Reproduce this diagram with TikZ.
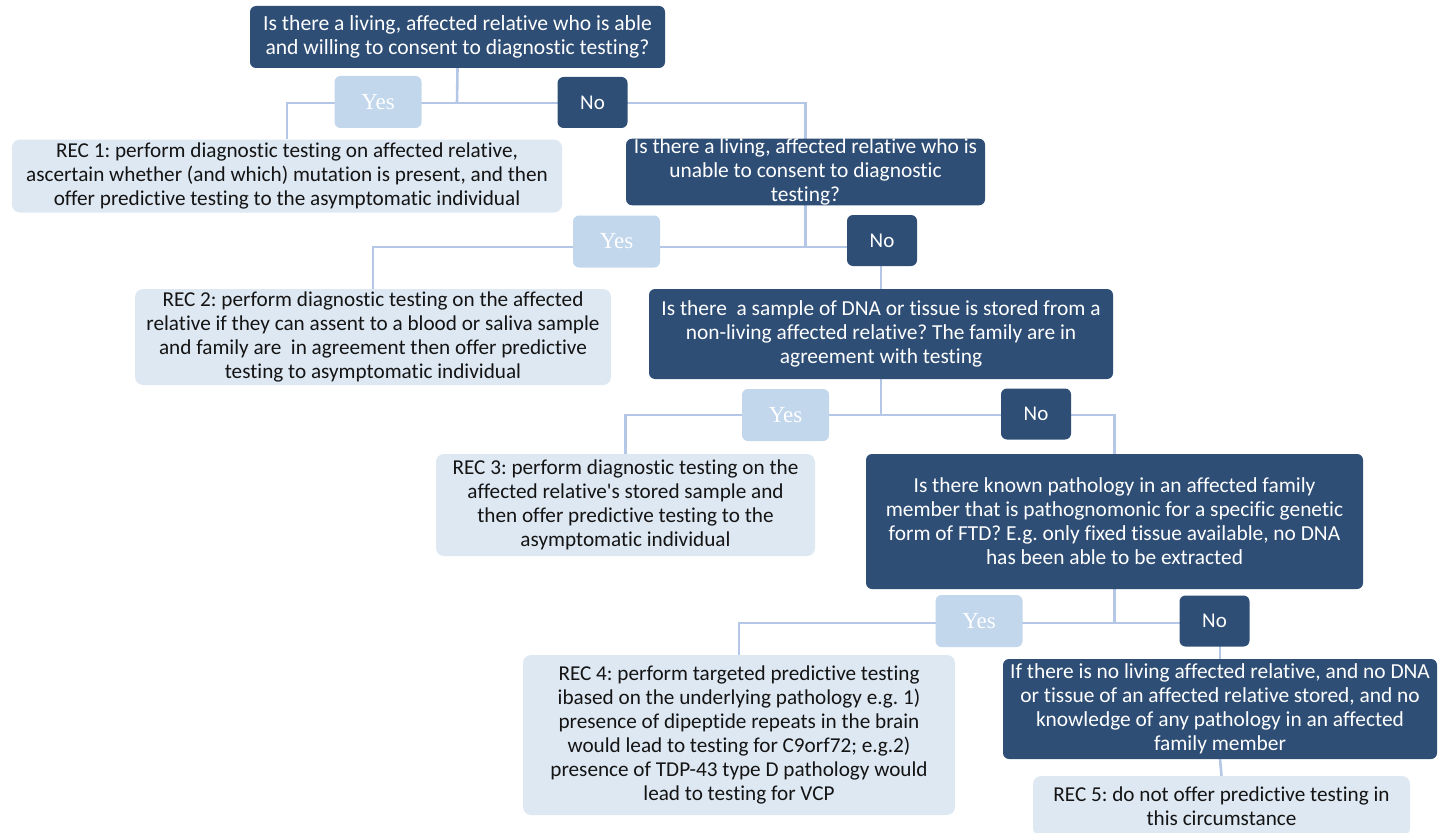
\documentclass[tikz,border=0pt]{standalone}
\usepackage{fontspec}
\setmainfont[Ligatures={NoCommon,TeXOff}]{Carlito}
\newfontfamily\yesfont{Liberation Serif}
\usetikzlibrary{backgrounds}
\frenchspacing
\definecolor{dkblue}{RGB}{46,78,118}
\definecolor{ltbox}{RGB}{222,232,243}
\definecolor{yesbox}{RGB}{194,214,236}
\definecolor{conn}{RGB}{180,199,231}
\definecolor{txt}{RGB}{20,20,20}
\tikzset{
  qbox/.style={fill=dkblue, text=white, rounded corners=6pt, inner sep=0pt, align=center,
    font=\frenchspacing\fontsize{21.4}{24}\selectfont},
  recbox/.style={fill=ltbox, text=txt, rounded corners=8pt, inner sep=0pt, align=center,
    font=\frenchspacing\fontsize{21.2}{24}\selectfont},
  yeslab/.style={fill=yesbox, text=white, rounded corners=6pt, inner sep=0pt,
    minimum width=87pt, minimum height=52pt, font=\yesfont\fontsize{23}{26}\selectfont},
  nolab/.style={fill=dkblue, text=white, rounded corners=6pt, inner sep=0pt,
    minimum width=70pt, minimum height=51pt, font=\fontsize{21}{24}\selectfont},
  connline/.style={draw=conn, line width=2.6pt}
}
\begin{document}
\begin{tikzpicture}[x=1pt,y=-1pt]
\useasboundingbox (0,0) rectangle (1439,832);
\clip (0,0) rectangle (1439,832);
% questions
\node[qbox, minimum width=415pt, minimum height=62pt, font=\frenchspacing\fontsize{21.6}{24}\selectfont] (q1) at (457.5,37)
  {Is there a living, affected relative who is able\\and willing to consent to diagnostic testing?};
\node[qbox, minimum width=359pt, minimum height=66pt] (q2) at (805.5,172)
  {Is there a living, affected relative who is\\unable to consent to diagnostic\\testing?};
\node[qbox, minimum width=464pt, minimum height=90pt] (q3) at (881,334)
  {Is there \ a sample of DNA or tissue is stored from a\\non-living affected relative? The family are in\\agreement with testing};
\node[qbox, minimum width=497pt, minimum height=135pt] (q4) at (1114.5,521.5)
  {Is there known pathology in an affected family\\member that is pathognomonic for a specific genetic\\form of FTD? E.g. only fixed tissue available, no DNA\\has been able to be extracted};
\node[qbox, minimum width=434pt, minimum height=100pt] (q5) at (1220,709)
  {If there is no living affected relative, and no DNA\\or tissue of an affected relative stored, and no\\knowledge of any pathology in an affected\\family member};
% recommendations
\node[recbox, minimum width=550pt, minimum height=73pt] (rec1) at (287,176)
  {REC 1: perform diagnostic testing on affected relative,\\ascertain whether (and which) mutation is present, and then\\offer predictive testing to the asymptomatic individual};
\node[recbox, minimum width=476pt, minimum height=96pt] (rec2) at (373,337)
  {REC 2: perform diagnostic testing on the affected\\relative if they can assent to a blood or saliva sample\\and family are \ in agreement then offer predictive\\testing to asymptomatic individual};
\node[recbox, minimum width=379pt, minimum height=102pt] (rec3) at (625.5,505)
  {REC 3: perform diagnostic testing on the\\affected relative's stored sample and\\then offer predictive testing to the\\asymptomatic individual};
\node[recbox, minimum width=432pt, minimum height=160pt] (rec4) at (739,735)
  {REC 4: perform targeted predictive testing\\ibased on the underlying pathology e.g. 1)\\presence of dipeptide repeats in the brain\\would lead to testing for C9orf72; e.g.2)\\presence of TDP-43 type D pathology would\\lead to testing for VCP};
\node[recbox, minimum width=377pt, minimum height=60pt] (rec5) at (1221.5,806)
  {REC 5: do not offer predictive testing in\\this circumstance};
% junctions
\coordinate (j1) at (457,103);
\coordinate (j2) at (805.5,247);
\coordinate (j3) at (881,415);
\coordinate (j4) at (1114.5,623);
% connectors
\begin{scope}[on background layer]
\draw[connline] (q1.south) -- (j1);
\draw[connline] (j1) -| (rec1.north);
\draw[connline] (j1) -| (q2.north);
\draw[connline] (q2.south) -- (j2);
\draw[connline] (j2) -| (rec2.north);
\draw[connline] (j2) -| (q3.north);
\draw[connline] (q3.south) -- (j3);
\draw[connline] (j3) -| (rec3.north);
\draw[connline] (j3) -| (q4.north);
\draw[connline] (q4.south) -- (j4);
\draw[connline] (j4) -| (rec4.north);
\draw[connline] (j4) -| (q5.north);
\draw[connline] (q5.south) -- (rec5.north);
\end{scope}
% yes / no labels
\node[yeslab] (y1) at (378,102) {Yes};
\node[nolab] (n1) at (592.5,102.5) {No};
\node[yeslab] (y2) at (616.5,241.5) {Yes};
\node[nolab] (n2) at (882,240.5) {No};
\node[yeslab] (y3) at (785.5,415) {Yes};
\node[nolab] (n3) at (1036,414) {No};
\node[yeslab] (y4) at (979,621) {Yes};
\node[nolab] (n4) at (1214.5,621) {No};
\end{tikzpicture}
\end{document}
